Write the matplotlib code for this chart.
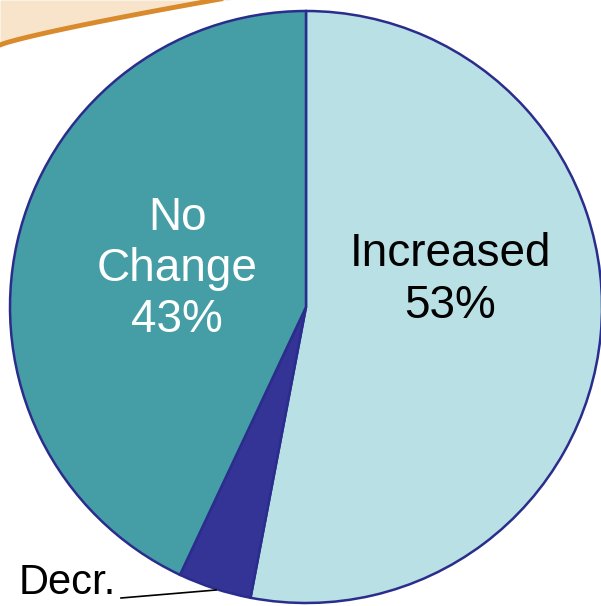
import matplotlib
matplotlib.use("Agg")
import matplotlib.pyplot as plt
import numpy as np

# ── Data ──────────────────────────────────────────────────────────────────────
categories = ["Increased", "Decr.", "No Change"]
shares = [53, 4, 43]
colors = ["#B9E0E4", "#343497", "#459EA6"]

W, H = 601, 606
plt.rcParams["font.family"] = ["Liberation Sans", "DejaVu Sans"]

fig = plt.figure(figsize=(W / 100, H / 100), dpi=100)
ax = fig.add_axes([0, 0, 1, 1])
ax.set_xlim(0, W)
ax.set_ylim(0, H)
ax.set_aspect("equal")
ax.axis("off")

# decorative orange swoosh in the top-left corner
sx = np.linspace(0, 230, 60)
sy = H - (45 - 45 * (sx / 215) ** 0.85)
ax.fill_between(sx, sy, H, color="#F8E4CB", lw=0, zorder=0)
ax.plot(sx, sy, color="#D98A2C", lw=3.5, zorder=1)

cx, cy, r = 306, H - 307, 296
wedges, _ = ax.pie(shares, colors=colors, startangle=90, counterclock=False,
                   center=(cx, cy), radius=r,
                   wedgeprops=dict(edgecolor="#2A2D8C", linewidth=1.8))
ax.set_xlim(0, W)
ax.set_ylim(0, H)

fs = 33
ax.text(450, H - 280, f"{categories[0]}\n{shares[0]}%", ha="center", va="center",
        fontsize=fs, color="black", linespacing=1.22)
ax.text(177, H - 269, f"No\nChange\n{shares[2]}%", ha="center", va="center",
        fontsize=fs, color="white", linespacing=1.22)

# leader for the small slice
ax.text(116, H - 583, categories[1], ha="right", va="center",
        fontsize=30, color="black")
ax.plot([121, 216], [H - 598, H - 590], color="black", lw=1.2)

fig.savefig("out.png", dpi=100)
